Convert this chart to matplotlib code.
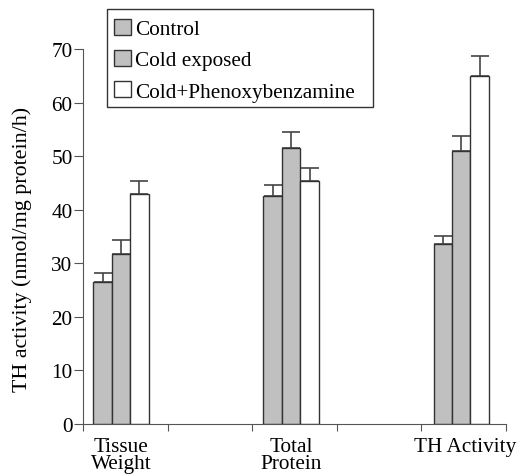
import numpy as np
import matplotlib.pyplot as plt
from matplotlib.patches import Rectangle

groups = ["Tissue\nWeight", "Total\nProtein", "TH Activity"]
series = ["Control", "Cold exposed", "Cold+Phenoxybenzamine"]
control = [26.5, 42.6, 33.6]
control_err = [1.7, 2.0, 1.5]
cold = [31.7, 51.5, 50.9]
cold_err = [2.6, 3.1, 2.8]
phenoxy = [42.9, 45.4, 64.9]
phenoxy_err = [2.5, 2.4, 3.9]

plt.rcParams['font.family'] = ['Liberation Serif', 'DejaVu Serif']

fig = plt.figure(figsize=(5.18, 4.77), dpi=100)
ax = fig.add_axes([0.16, 0.109, 0.817, 0.786])

centers = np.array([0.45, 2.46, 4.47])
w = 0.218
colors = ['#c0c0c0', '#c0c0c0', 'white']
vals = [control, cold, phenoxy]
errs = [control_err, cold_err, phenoxy_err]

for i, (v, e, c, name) in enumerate(zip(vals, errs, colors, series)):
    x = centers + (i - 1) * w
    ax.bar(x, v, width=w, color=c, edgecolor='#333333', linewidth=1.0,
           label=name, zorder=2)
    ax.errorbar(x, v, yerr=[np.zeros(3), e], fmt='none', ecolor='#444444',
                elinewidth=1.2, capsize=6.8, capthick=1.2, zorder=1)

ax.set_xlim(0, 5)
ax.set_ylim(0, 70)
ax.set_yticks(range(0, 71, 10))
ax.set_xticks(range(0, 6))
ax.set_xticklabels([])
ax.set_xticks(centers + np.array([0, 0, 0.05]), groups, minor=True)
ax.tick_params(axis='x', which='minor', length=0, pad=9, labelsize=15.3)
ax.tick_params(axis='x', which='major', length=5, color='#555555', direction='out')
ax.tick_params(axis='y', length=6.5, color='#555555', labelsize=15.3, pad=1)
for lbl in ax.get_xticklabels(minor=True):
    lbl.set_linespacing(0.9)

ax.spines['top'].set_visible(False)
ax.spines['right'].set_visible(False)
ax.spines['left'].set_color('#555555')
ax.spines['bottom'].set_color('#555555')

ax.set_ylabel("TH activity (nmol/mg protein/h)", fontsize=15.8)
ax.yaxis.set_label_coords(-0.12, 0.467)

# legend text without its own frame; box drawn separately to match the wider outline
leg = ax.legend(loc='upper left', bbox_to_anchor=(0.207, 0.972),
                bbox_transform=fig.transFigure, fontsize=15.3, frameon=False,
                handlelength=0.8, handleheight=0.8, handletextpad=0.2,
                borderpad=0.3, labelspacing=0.5, borderaxespad=0)
for h in leg.legend_handles:
    h.set_edgecolor('#333333')
fig.patches.append(Rectangle((107 / 518, 1 - 108 / 477), 266 / 518, 98 / 477,
                             transform=fig.transFigure, fill=False,
                             edgecolor='#333333', linewidth=1.0))

fig.savefig("out.png", dpi=100)
